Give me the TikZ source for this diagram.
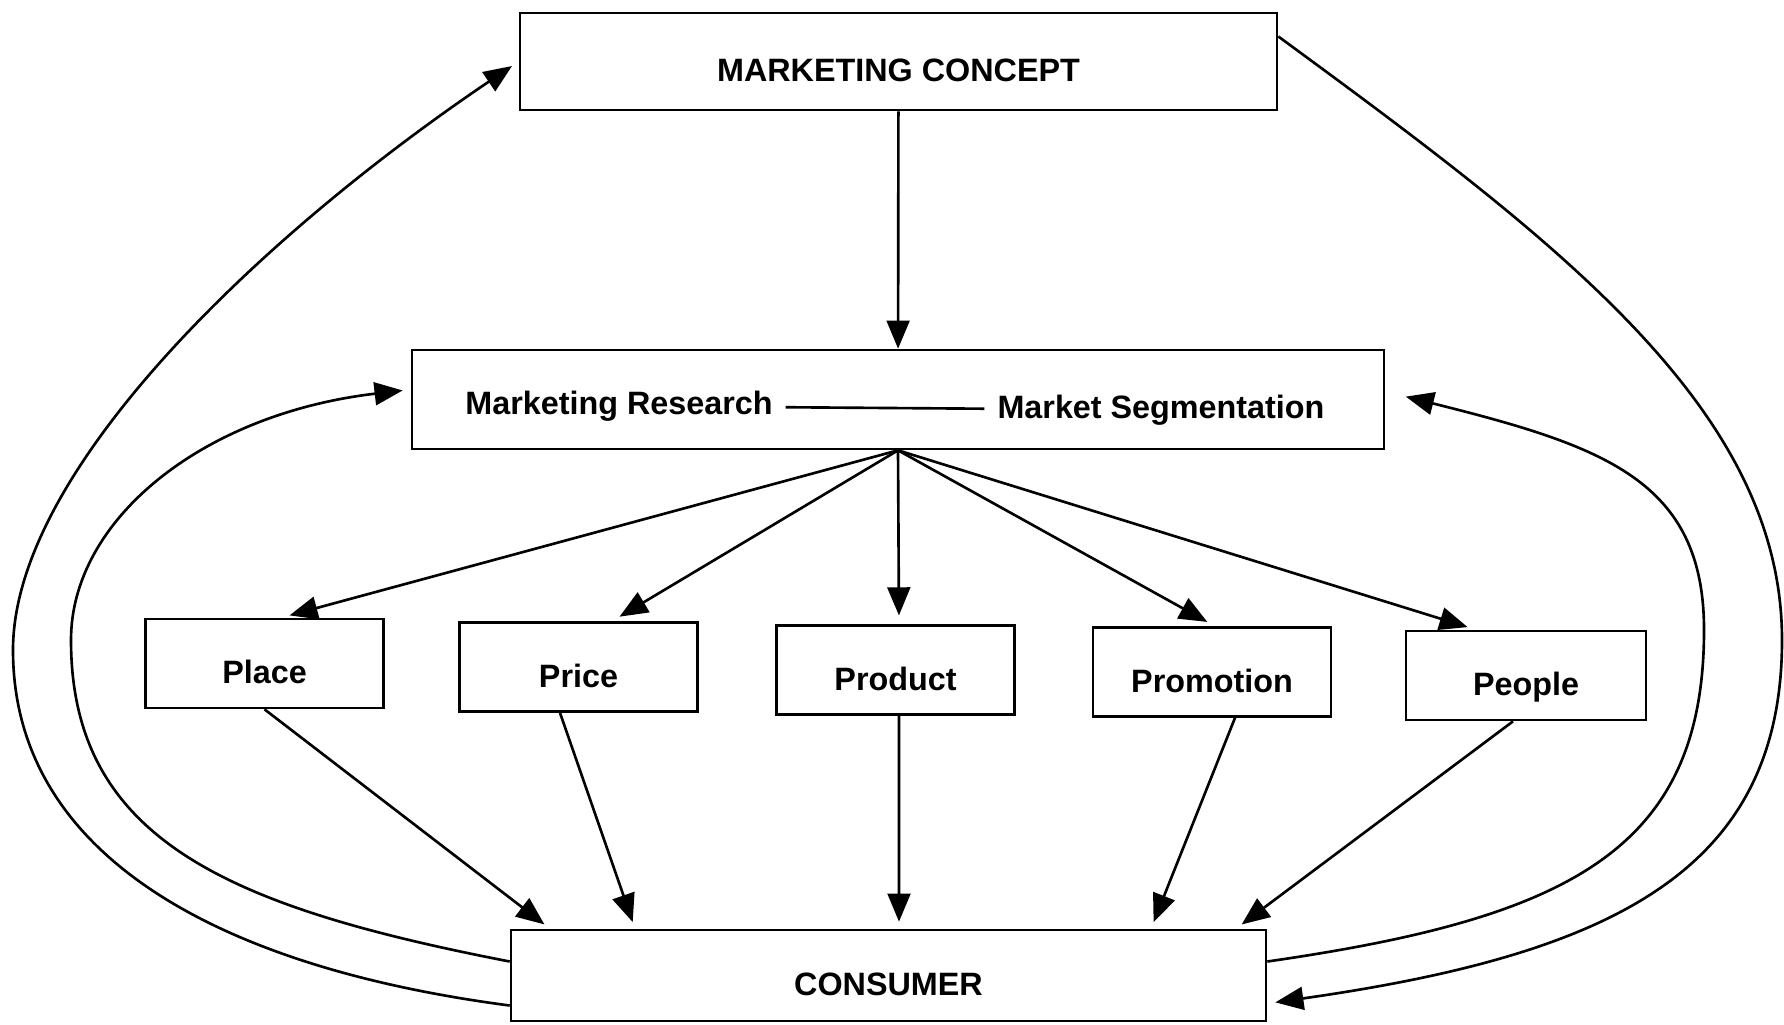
\documentclass[tikz,border=0pt]{standalone}
\usepackage{fontspec}
\setmainfont{Liberation Sans}
\usepackage{tikz}
\usetikzlibrary{arrows.meta}

\tikzset{
	box/.style={draw, minimum width=2.38cm, minimum height=0.89cm, inner sep=0pt,
		text height=11.5pt, text depth=0pt},
	feed/.style={->, shorten >=2.3pt},
}

\begin{document}
\begin{tikzpicture}[line width=0.75pt, >={Triangle[length=8pt,width=6.5pt]},
	font=\fontsize{9.2pt}{11pt}\selectfont\bfseries]
\useasboundingbox (0,0) rectangle (17.84,-10.24);
%
\node[box, minimum width=7.57cm, minimum height=0.97cm] (concept) at (8.985,-0.615) {MARKETING CONCEPT};
\node[box, minimum width=9.72cm, minimum height=0.99cm] (mix) at (8.98,-3.995) {};
\node (research) at (6.19,-4.06) {Marketing Research};
\node (segment) at (11.61,-4.10) {Market Segmentation};
%
\node[box] (place) at (2.645,-6.635) {Place};
\node[box] (price) at (5.785,-6.67) {Price};
\node[box] (product) at (8.955,-6.70) {Product};
\node[box] (promo) at (12.12,-6.72) {Promotion};
\node[box, minimum width=2.40cm] (people) at (15.26,-6.755) {People};
%
\node[box, minimum width=7.55cm, minimum height=0.91cm] (consumer) at (8.885,-9.755) {CONSUMER};
%
\draw (research) -- (segment);
\draw[->] (concept) -- (mix);
%
\draw[->, shorten >=2.5pt] (mix.south) -- ([xshift=0.165cm]place.north);
\draw[->, shorten >=2.5pt] (mix.south) -- ([xshift=0.335cm]price.north);
\draw[->, shorten >=2.5pt] (mix.south) -- ([xshift=0.035cm]product.north);
\draw[->, shorten >=2.5pt] (mix.south) -- ([xshift=0.03cm]promo.north);
\draw[->, shorten >=2.5pt] (mix.south) -- ([xshift=-0.5cm]people.north);
%
\draw[->, shorten >=2pt] (place.south) -- ([xshift=-3.385cm]consumer.north);
\draw[->, shorten >=2pt] ([xshift=-0.185cm]price.south) -- ([xshift=-2.535cm]consumer.north);
\draw[->, shorten >=2pt] ([xshift=0.035cm]product.south) -- ([xshift=0.105cm]consumer.north);
\draw[->, shorten >=2pt] ([xshift=0.23cm]promo.south) -- ([xshift=2.625cm]consumer.north);
\draw[->, shorten >=2pt] ([xshift=-0.13cm]people.south) -- ([xshift=3.475cm]consumer.north);
%
% feedback loops
\draw[feed] ([yshift=-0.3cm]consumer.west) .. controls (2.09,-9.66) and (0.13,-8.50) .. (0.13,-6.50)
	.. controls (0.13,-4.70) and (2.63,-2.34) .. (concept.west);
\draw[feed] ([yshift=0.14cm]consumer.west) .. controls (2.29,-9.07) and (0.71,-8.40) .. (0.71,-6.40)
	.. controls (0.71,-5.20) and (2.02,-4.14) .. ([yshift=0.1cm]mix.west);
\draw[feed] ([yshift=0.25cm]concept.east) .. controls (15.60,-2.43) and (17.82,-4.10) .. (17.82,-6.40)
	.. controls (17.82,-8.70) and (16.14,-9.54) .. ([yshift=-0.28cm]consumer.east);
\draw[feed, shorten >=6pt] ([yshift=0.14cm]consumer.east) .. controls (15.69,-9.18) and (17.04,-8.50) .. (17.04,-6.30)
	.. controls (17.04,-4.80) and (16.03,-4.46) .. ([yshift=0.08cm]mix.east);
\end{tikzpicture}
\end{document}
